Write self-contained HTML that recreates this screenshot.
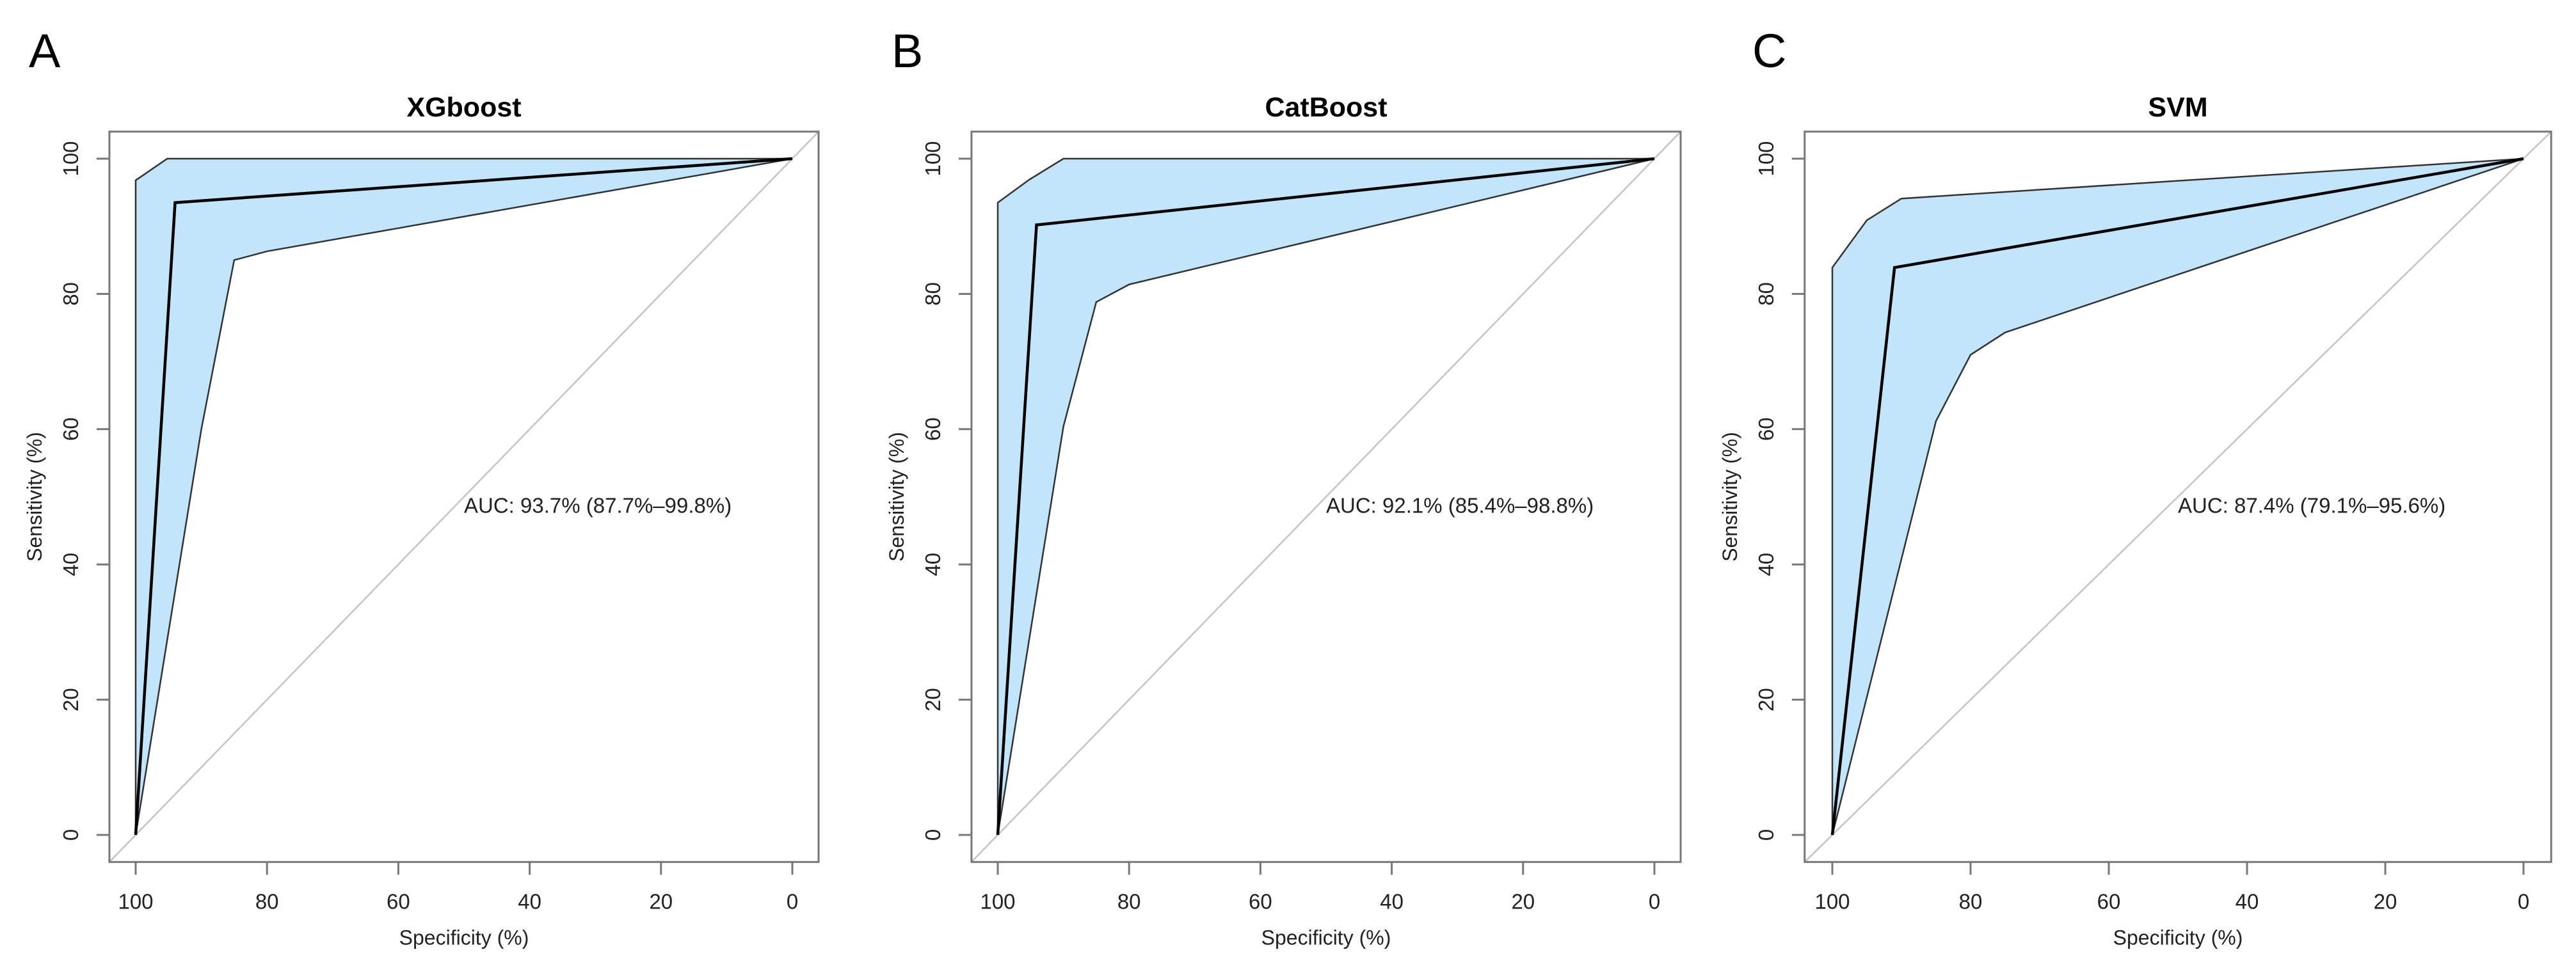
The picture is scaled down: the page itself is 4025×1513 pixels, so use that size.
<!DOCTYPE html>
<html><head><meta charset="utf-8"><style>
html,body{margin:0;padding:0;background:#fff;}
svg{display:block;font-family:"Liberation Sans",Arial,sans-serif;}
</style></head><body>
<svg id="fig" width="4025" height="1513" viewBox="0 0 4025 1513" xmlns="http://www.w3.org/2000/svg"></svg>
<script>
// ---- data (specificity %, sensitivity %) ----
const xgSpec = [100, 94, 0];
const xgSens = [0, 93.5, 100];
const xgUpSpec = [100, 100, 95.2, 0];
const xgUpSens = [0, 96.8, 100, 100];
const xgLoSpec = [100, 90, 85, 80, 0];
const xgLoSens = [0, 60, 85, 86.3, 100];

const cbSpec = [100, 94.1, 0];
const cbSens = [0, 90.2, 100];
const cbUpSpec = [100, 100, 95.2, 90, 0];
const cbUpSens = [0, 93.5, 96.9, 100, 100];
const cbLoSpec = [100, 90, 85, 80, 0];
const cbLoSens = [0, 60.4, 78.8, 81.4, 100];

const svSpec = [100, 91, 0];
const svSens = [0, 83.9, 100];
const svUpSpec = [100, 100, 95, 90, 0];
const svUpSens = [0, 83.9, 90.9, 94.1, 100];
const svLoSpec = [100, 85, 80, 75, 0];
const svLoSens = [0, 61.2, 71, 74.3, 100];

const titles = ["XGboost", "CatBoost", "SVM"];
const letters = ["A", "B", "C"];
const aucLabels = ["AUC: 93.7% (87.7%\u201399.8%)", "AUC: 92.1% (85.4%\u201398.8%)", "AUC: 87.4% (79.1%\u201395.6%)"];
const tickVals = [0, 20, 40, 60, 80, 100];

const series = [
  {spec: xgSpec, sens: xgSens, upS: xgUpSpec, upE: xgUpSens, loS: xgLoSpec, loE: xgLoSens},
  {spec: cbSpec, sens: cbSens, upS: cbUpSpec, upE: cbUpSens, loS: cbLoSpec, loE: cbLoSens},
  {spec: svSpec, sens: svSens, upS: svUpSpec, upE: svUpSens, loS: svLoSpec, loE: svLoSens}
];
// layout (pixels)
const layout = [
  {x100: 212, x0: 1238, letterX: 45},
  {x100: 1559, x0: 2585, letterX: 1393},
  {x100: 2863, x0: 3943, letterX: 2738}
];
const Y100 = 248, Y0 = 1305;

const NS = "http://www.w3.org/2000/svg";
const svg = document.getElementById("fig");
function mk(tag, attrs, parent) {
  const e = document.createElementNS(NS, tag);
  for (const k in attrs) e.setAttribute(k, attrs[k]);
  (parent || svg).appendChild(e);
  return e;
}

series.forEach((s, i) => {
  const L = layout[i];
  const sx = v => L.x0 + (L.x100 - L.x0) * v / 100;
  const sy = v => Y0 + (Y100 - Y0) * v / 100;
  const bl = sx(104), br = sx(-4), bt = sy(104), bb = sy(-4);
  const g = mk("g", {});
  
  

  // letter
  const lt = mk("text", {x: L.letterX, y: 105, "font-size": 74, fill: "#000"}, g);
  lt.textContent = letters[i];
  
  

  // title
  const tt = mk("text", {x: (bl + br) / 2, y: 182, "font-size": 43, "font-weight": "bold", "text-anchor": "middle", fill: "#000"}, g);
  tt.textContent = titles[i];
  
  

  // CI band polygon
  let pts = [];
  for (let k = 0; k < s.upS.length; k++) pts.push(sx(s.upS[k]) + "," + sy(s.upE[k]));
  for (let k = s.loS.length - 1; k >= 0; k--) pts.push(sx(s.loS[k]) + "," + sy(s.loE[k]));
  const band = mk("polygon", {points: pts.join(" "), fill: "#c3e5fa", stroke: "none"}, g);
  
  
  const up = mk("polyline", {points: s.upS.map((v, k) => sx(v) + "," + sy(s.upE[k])).join(" "), fill: "none", stroke: "#333", "stroke-width": 2.5}, g);
  
  
  const lo = mk("polyline", {points: s.loS.map((v, k) => sx(v) + "," + sy(s.loE[k])).join(" "), fill: "none", stroke: "#333", "stroke-width": 2.5}, g);
  
  

  // diagonal
  const dg = mk("line", {x1: bl, y1: bb, x2: br, y2: bt, stroke: "#c4c4c4", "stroke-width": 2.5}, g);
  
  

  // ROC curve
  const rc = mk("polyline", {points: s.spec.map((v, k) => sx(v) + "," + sy(s.sens[k])).join(" "), fill: "none", stroke: "#000", "stroke-width": 4.5, "stroke-linejoin": "miter"}, g);
  
  

  // box
  const bx = mk("rect", {x: bl, y: bt, width: br - bl, height: bb - bt, fill: "none", stroke: "#777", "stroke-width": 3}, g);
  
  

  // ticks
  tickVals.forEach(v => {
    const xt = mk("line", {x1: sx(v), y1: bb, x2: sx(v), y2: bb + 20, stroke: "#777", "stroke-width": 3}, g);
    
    
    const xl = mk("text", {x: sx(v), y: bb + 73, "font-size": 33, "text-anchor": "middle", fill: "#222"}, g);
    xl.textContent = v;
    
    
    const yt = mk("line", {x1: bl - 20, y1: sy(v), x2: bl, y2: sy(v), stroke: "#777", "stroke-width": 3}, g);
    
    
    const yl = mk("text", {x: 0, y: 0, "font-size": 33, "text-anchor": "middle", fill: "#222", transform: "translate(" + (bl - 49) + "," + sy(v) + ") rotate(-90)"}, g);
    yl.textContent = v;
    
    
  });

  const xa = mk("text", {x: (bl + br) / 2, y: bb + 129, "font-size": 32, "text-anchor": "middle", fill: "#222"}, g);
  xa.textContent = "Specificity (%)";
  
  
  const ya = mk("text", {x: 0, y: 0, "font-size": 32, "text-anchor": "middle", fill: "#222", transform: "translate(" + (bl - 106) + "," + ((bt + bb) / 2) + ") rotate(-90)"}, g);
  ya.textContent = "Sensitivity (%)";
  
  

  const au = mk("text", {x: sx(50), y: sy(50) + 25, "font-size": 33, fill: "#222"}, g);
  au.textContent = aucLabels[i];
  
  
});
</script>
</body></html>
